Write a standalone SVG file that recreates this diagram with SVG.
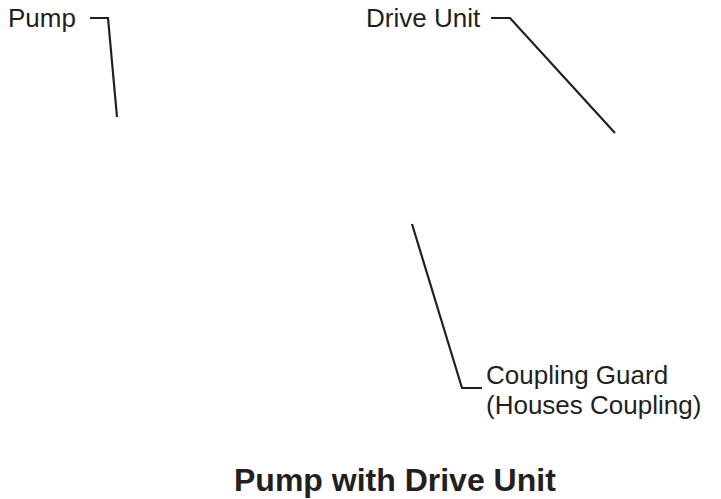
<svg xmlns="http://www.w3.org/2000/svg" width="721" height="499" viewBox="0 0 721 499">
<style>
.lbl{font-family:"Liberation Sans",Arial,sans-serif;font-size:26px;fill:#231f20}
.ttl{font-family:"Liberation Sans",Arial,sans-serif;font-size:32px;font-weight:bold;fill:#231f20}
.ld{fill:none;stroke:#231f20;stroke-width:2.2}
</style>
<rect width="721" height="499" fill="#fff"/>
<g id="pump"><text class="lbl" x="8" y="27">Pump</text></g>
<g id="drive-unit"><text class="lbl" x="366" y="27">Drive Unit</text></g>
<g id="coupling-guard"><text class="lbl" x="486" y="384">Coupling Guard</text><text class="lbl" x="486" y="414">(Houses Coupling)</text></g>
<g id="title"><text class="ttl" x="234" y="491">Pump with Drive Unit</text></g>
<g id="connectors">
<path class="ld" d="M90,18 H108 L117,117"/>
<path class="ld" d="M491,18 H510 L615,133"/>
<path class="ld" d="M412,224 L462,388 H482"/>
</g>
</svg>
